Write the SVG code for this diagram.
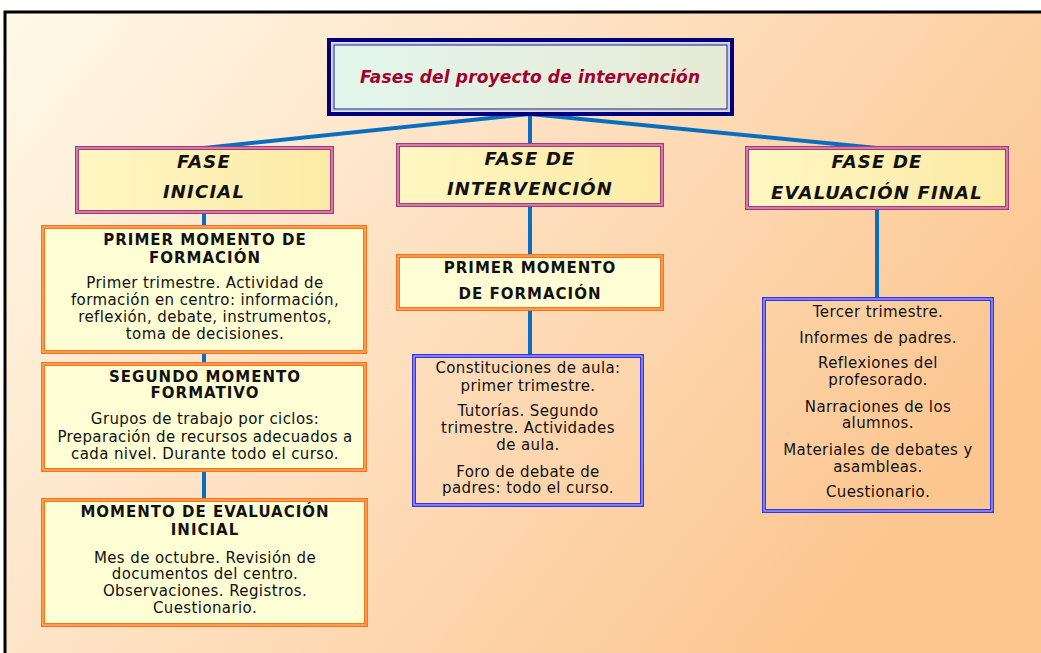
<svg xmlns="http://www.w3.org/2000/svg" width="1041" height="653" viewBox="0 0 1041 653">
<defs>
<linearGradient id="bg" x1="0" y1="0" x2="1" y2="0.5">
<stop offset="0" stop-color="#FFF9E8"/>
<stop offset="0.45" stop-color="#FEE2C4"/>
<stop offset="1" stop-color="#FCC690"/>
</linearGradient>
<linearGradient id="tg" x1="0" y1="0" x2="1" y2="0">
<stop offset="0" stop-color="#E3F6EC"/>
<stop offset="1" stop-color="#E6EAD6"/>
</linearGradient>
<linearGradient id="pg" x1="0" y1="0" x2="1" y2="0">
<stop offset="0" stop-color="#FFF7C2"/>
<stop offset="1" stop-color="#FDEAA6"/>
</linearGradient>
<style>
.ph{fill:url(#pg);stroke:#A8397A;stroke-width:4}
.phi{fill:none;stroke:#E9A9BE;stroke-width:1.2}
.or{fill:#FFFFD6;stroke:#FA7319;stroke-width:4}
.ori{fill:none;stroke:#FFB57A;stroke-width:1.2}
.bl{fill:none;stroke:#3434E0;stroke-width:4}
.bli{fill:none;stroke:#B4B4FF;stroke-width:1.2}
.con{stroke:#0A6EC0;stroke-width:4;fill:none}
.t{font-family:"DejaVu Sans",sans-serif;text-anchor:middle;fill:#111}
.ti{font-size:18px;font-weight:bold;font-style:italic;letter-spacing:1.2px}
.h{font-size:15px;font-weight:bold;letter-spacing:1px}
.b{font-size:15px;letter-spacing:0.4px}
</style>
</defs>
<rect x="0" y="0" width="1041" height="653" fill="#FFFFFF"/>
<rect x="5" y="12" width="1045" height="650" fill="url(#bg)" stroke="#000" stroke-width="3"/>

<g id="connectors">
<path class="con" d="M530,114 L204,148"/>
<path class="con" d="M530,114 L530,145"/>
<path class="con" d="M530,114 L877,148"/>
<path class="con" d="M204,212 L204,227"/>
<path class="con" d="M204,352 L204,364"/>
<path class="con" d="M204,470 L204,500"/>
<path class="con" d="M530,205 L530,256"/>
<path class="con" d="M530,309 L530,356"/>
<path class="con" d="M877,208 L877,299"/>
</g>

<g id="title">
<rect x="329" y="40" width="403" height="74" fill="url(#tg)" stroke="#00007E" stroke-width="4"/>
<rect x="332.5" y="43.5" width="396" height="67" fill="none" stroke="#C8C8F0" stroke-width="1.5"/>
<rect x="334" y="45" width="393" height="64" fill="none" stroke="#1A1A8A" stroke-width="1"/>
<text class="t" x="530" y="83" font-size="17" font-weight="bold" font-style="italic" style="fill:#A3002D" textLength="340" lengthAdjust="spacing">Fases del proyecto de intervención</text>
</g>

<g id="fase-inicial">
<rect class="ph" x="77" y="148" width="255" height="64"/>
<rect class="phi" x="77" y="148" width="255" height="64"/>
<text class="t ti" x="204" y="168">FASE</text>
<text class="t ti" x="204" y="198">INICIAL</text>
</g>

<g id="fase-intervencion">
<rect class="ph" x="398" y="145" width="264" height="60"/>
<rect class="phi" x="398" y="145" width="264" height="60"/>
<text class="t ti" x="530" y="165">FASE DE</text>
<text class="t ti" x="530" y="195">INTERVENCIÓN</text>
</g>

<g id="fase-evaluacion">
<rect class="ph" x="747" y="148" width="260" height="60"/>
<rect class="phi" x="747" y="148" width="260" height="60"/>
<text class="t ti" x="877" y="168">FASE DE</text>
<text class="t ti" x="877" y="199">EVALUACIÓN FINAL</text>
</g>

<g id="primer-momento-inicial">
<rect class="or" x="43" y="227" width="322" height="125"/>
<rect class="ori" x="43" y="227" width="322" height="125"/>
<text class="t h" x="205" y="245">PRIMER MOMENTO DE</text>
<text class="t h" x="205" y="263">FORMACIÓN</text>
<text class="t b" x="205" y="288">Primer trimestre. Actividad de</text>
<text class="t b" x="205" y="305">formación en centro: información,</text>
<text class="t b" x="205" y="322">reflexión, debate, instrumentos,</text>
<text class="t b" x="205" y="339">toma de decisiones.</text>
</g>

<g id="segundo-momento">
<rect class="or" x="43" y="364" width="322" height="106"/>
<rect class="ori" x="43" y="364" width="322" height="106"/>
<text class="t h" x="205" y="382">SEGUNDO MOMENTO</text>
<text class="t h" x="205" y="398">FORMATIVO</text>
<text class="t b" x="205" y="424">Grupos de trabajo por ciclos:</text>
<text class="t b" x="205" y="442">Preparación de recursos adecuados a</text>
<text class="t b" x="205" y="459">cada nivel. Durante todo el curso.</text>
</g>

<g id="momento-evaluacion">
<rect class="or" x="43" y="500" width="323" height="125"/>
<rect class="ori" x="43" y="500" width="323" height="125"/>
<text class="t h" x="205" y="517">MOMENTO DE EVALUACIÓN</text>
<text class="t h" x="205" y="535">INICIAL</text>
<text class="t b" x="205" y="563">Mes de octubre. Revisión de</text>
<text class="t b" x="205" y="579">documentos del centro.</text>
<text class="t b" x="205" y="596">Observaciones. Registros.</text>
<text class="t b" x="205" y="613">Cuestionario.</text>
</g>

<g id="primer-momento-intervencion">
<rect class="or" x="398" y="256" width="264" height="53"/>
<rect class="ori" x="398" y="256" width="264" height="53"/>
<text class="t h" x="530" y="273">PRIMER MOMENTO</text>
<text class="t h" x="530" y="299">DE FORMACIÓN</text>
</g>

<g id="actividades-intervencion">
<rect class="bl" x="414" y="356" width="228" height="149"/>
<rect class="bli" x="414" y="356" width="228" height="149"/>
<text class="t b" x="528" y="373">Constituciones de aula:</text>
<text class="t b" x="528" y="391">primer trimestre.</text>
<text class="t b" x="528" y="416">Tutorías. Segundo</text>
<text class="t b" x="528" y="433">trimestre. Actividades</text>
<text class="t b" x="528" y="450">de aula.</text>
<text class="t b" x="528" y="477">Foro de debate de</text>
<text class="t b" x="528" y="493">padres: todo el curso.</text>
</g>

<g id="evaluacion-final">
<rect class="bl" x="764" y="299" width="228" height="212"/>
<rect class="bli" x="764" y="299" width="228" height="212"/>
<text class="t b" x="878" y="317">Tercer trimestre.</text>
<text class="t b" x="878" y="343">Informes de padres.</text>
<text class="t b" x="878" y="368">Reflexiones del</text>
<text class="t b" x="878" y="385">profesorado.</text>
<text class="t b" x="878" y="412">Narraciones de los</text>
<text class="t b" x="878" y="428">alumnos.</text>
<text class="t b" x="878" y="455">Materiales de debates y</text>
<text class="t b" x="878" y="472">asambleas.</text>
<text class="t b" x="878" y="497">Cuestionario.</text>
</g>
</svg>
